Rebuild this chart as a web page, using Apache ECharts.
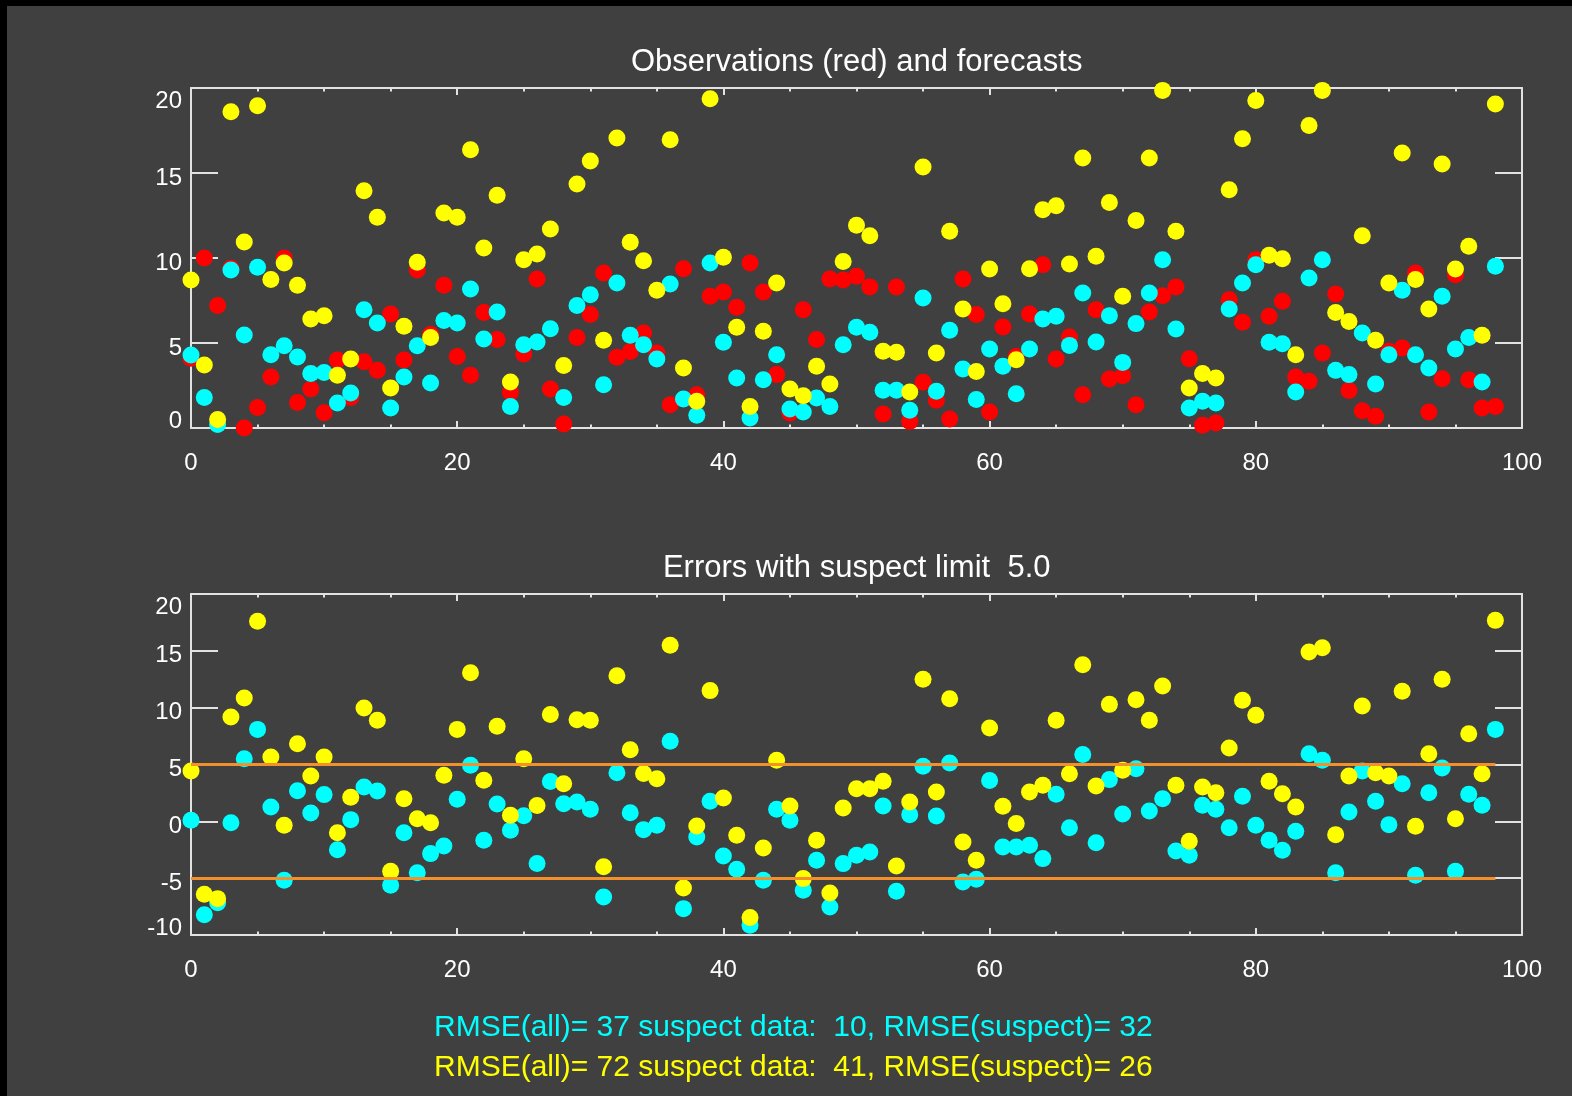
<!DOCTYPE html>
<html>
<head>
<meta charset="utf-8">
<script src="https://cdn.jsdelivr.net/npm/echarts@6/dist/echarts.min.js"></script>
<style>
  html, body { margin: 0; padding: 0; background: #000000; width: 1572px; height: 1096px; overflow: hidden; }
  #chart { position: absolute; left: 7px; top: 6px; width: 1565px; height: 1090px; }
</style>
</head>
<body>
<div id="chart"></div>
<script>
// ---------- data ----------
const observations = [
  4.1, 10.0, 7.2, 9.4, 0.0, 1.2, 3.0, 10.0, 1.5, 2.3,
  0.9, 4.0, 1.8, 3.9, 3.4, 6.7, 4.0, 9.3, 5.5, 8.4,
  4.2, 3.1, 6.8, 5.2, 2.1, 4.35, 8.76, 2.3, 0.24, 5.33,
  6.67, 9.12, 4.16, 4.5, 5.59, 4.41, 1.37, 9.37, 1.96, 7.75,
  8.0, 7.1, 9.7, 8.0, 3.14, 0.88, 6.96, 5.2, 8.76, 8.7,
  8.92, 8.29, 0.82, 8.29, 0.39, 2.69, 1.63, 0.53, 8.76, 6.67,
  0.94, 5.94, 4.2, 6.7, 9.6, 4.06, 5.35, 1.96, 6.96, 2.88,
  3.08, 1.37, 6.82, 7.78, 8.29, 4.08, 0.16, 0.29, 7.55, 6.22,
  9.9, 6.57, 7.45, 3.0, 2.75, 4.41, 7.88, 2.2, 1.02, 0.69,
  4.51, 4.71, 9.12, 0.94, 2.9, 9.02, 2.84, 1.18, 1.27
];
const forecastCyan = [
  4.3, 1.8, 0.2, 9.3, 5.47, 9.45, 4.31, 4.84, 4.18, 3.2,
  3.27, 1.47, 2.06, 6.96, 6.18, 1.18, 3.0, 4.84, 2.65, 6.33,
  6.18, 8.18, 5.24, 6.82, 1.27, 4.9, 5.06, 5.84, 1.8, 7.2,
  7.84, 2.55, 8.53, 5.45, 4.9, 4.06, 8.47, 1.7, 0.75, 9.7,
  5.04, 2.94, 0.59, 2.84, 4.31, 1.12, 0.94, 1.76, 1.27, 4.9,
  5.92, 5.63, 2.22, 2.22, 1.04, 7.65, 2.16, 5.75, 3.47, 1.67,
  4.65, 3.63, 2.02, 4.65, 6.41, 6.57, 4.86, 7.94, 5.06, 6.61,
  3.86, 6.14, 7.94, 9.9, 5.82, 1.18, 1.57, 1.47, 7.0, 8.53,
  9.6, 5.04, 4.96, 2.12, 8.82, 9.9, 3.39, 3.14, 5.59, 2.59,
  4.31, 8.1, 4.31, 3.53, 7.75, 4.65, 5.33, 2.71, 9.51
];
const forecastYellow = [
  8.7, 3.7, 0.5, 18.6, 10.94, 18.96, 8.73, 9.7, 8.4, 6.41,
  6.6, 3.1, 4.06, 13.96, 12.4, 2.35, 5.98, 9.75, 5.33, 12.65,
  12.4, 16.37, 10.59, 13.69, 2.7, 9.9, 10.24, 11.7, 3.67, 14.35,
  15.7, 5.16, 17.06, 10.92, 9.84, 8.1, 16.96, 3.53, 1.57, 19.37,
  10.04, 5.92, 1.27, 5.69, 8.53, 2.29, 1.9, 3.63, 2.59, 9.8,
  11.92, 11.31, 4.51, 4.45, 2.12, 15.35, 4.41, 11.57, 7.0, 3.33,
  9.35, 7.31, 4.02, 9.37, 12.84, 13.08, 9.65, 15.88, 10.1, 13.27,
  7.75, 12.2, 15.88, 19.86, 11.57, 2.35, 3.2, 2.94, 14.02, 17.02,
  19.27, 10.16, 9.96, 4.31, 17.8, 19.86, 6.8, 6.27, 11.31, 5.16,
  8.53, 16.18, 8.73, 7.0, 15.53, 9.35, 10.69, 5.45, 19.06
];
const errorCyan = [
  0.09, -8.21, -7.16, -0.12, 5.51, 8.09, 1.26, -5.19, 2.7, 0.73,
  2.35, -2.49, 0.15, 3.02, 2.67, -5.63, -1.0, -4.52, -2.84, -2.17,
  1.94, 4.93, -1.67, 1.52, -0.79, 0.5, -3.7, 3.5, 1.55, 1.7,
  1.06, -6.66, 4.28, 0.76, -0.73, -0.35, 7.04, -7.68, -1.38, 1.76,
  -3.05, -4.22, -9.15, -5.19, 1.06, 0.09, -6.07, -3.43, -7.54, -3.72,
  -2.99, -2.7, 1.35, -6.16, 0.59, 4.84, 0.47, 5.13, -5.34, -5.1,
  3.6, -2.26, -2.26, -2.11, -3.28, 2.38, -0.56, 5.87, -1.88, 3.67,
  0.65, 4.63, 0.91, 1.99, -2.61, -2.99, 1.41, 1.06, -0.56, 2.2,
  -0.35, -1.67, -2.55, -0.88, 5.95, 5.37, -4.52, 0.82, 4.43, 1.76,
  -0.29, 3.31, -4.75, 2.52, 4.69, -4.4, 2.38, 1.41, 8.09
];
const errorYellow = [
  4.43, -6.42, -6.8, 9.18, 10.85, 17.6, 5.66, -0.35, 6.83, 3.99,
  5.66, -1.0, 2.11, 9.97, 8.89, -4.4, 1.99, 0.23, -0.12, 4.05,
  8.09, 13.08, 3.61, 8.36, 0.53, 5.5, 1.4, 9.4, 3.3, 8.94,
  8.9, -4.0, 12.8, 6.3, 4.2, 3.75, 15.5, -5.87, -0.41, 11.5,
  2.05, -1.23, -8.47, -2.35, 5.37, 1.35, -5.04, -1.67, -6.3, 1.17,
  2.87, 2.87, 3.52, -3.93, 1.7, 12.49, 2.58, 10.79, -1.82, -3.43,
  8.21, 1.32, -0.2, 2.58, 3.17, 8.89, 4.19, 13.78, 3.11, 10.29,
  4.49, 10.7, 8.89, 11.9, 3.17, -1.76, 3.02, 2.52, 6.45, 10.65,
  9.33, 3.52, 2.43, 1.26, 14.9, 15.28, -1.17, 3.99, 10.15, 4.28,
  3.99, 11.44, -0.44, 5.95, 12.49, 0.23, 7.71, 4.19, 17.68
];
const suspectLimits = [5, -5];
const limitLineStart = 0;
const limitLineEnd = 98;

const topTitle = 'Observations (red) and forecasts';
const bottomTitle = 'Errors with suspect limit  5.0';
const statsCyan = 'RMSE(all)= 37 suspect data:  10, RMSE(suspect)= 32';
const statsYellow = 'RMSE(all)= 72 suspect data:  41, RMSE(suspect)= 26';

const xRange = [0, 100], xStep = 20;
const topYRange = [0, 20], botYRange = [-10, 20], yStep = 5;

// ---------- styling ----------
const FONT = '"Liberation Sans", Arial, sans-serif';
const AX = '#e2e2e2';
const RED = '#ff0000', CYAN = '#00ffff', YELLOW = '#ffff00', ORANGE = '#f3902c';
const DOT = 17;
const TICKFONT = 24;

function pairs(arr) { return arr.map((v, i) => [i, v]); }

function xAxis(grid, pos, showLabel, margin) {
  return {
    type: 'value', gridIndex: grid, position: pos, min: xRange[0], max: xRange[1], interval: xStep,
    axisLine: { show: true, onZero: false, lineStyle: { color: AX, width: 2 } },
    axisTick: { show: true, inside: true, length: 7, lineStyle: { color: AX, width: 2 } },
    minorTick: { show: true, splitNumber: 4, length: 3.5, lineStyle: { color: AX, width: 2 } },
    axisLabel: { show: showLabel, color: '#ffffff', fontSize: TICKFONT, fontFamily: FONT, margin: margin },
    splitLine: { show: false }, minorSplitLine: { show: false }
  };
}
function yAxis(grid, pos, showLabel, range) {
  const lo = range[0], hi = range[1];
  const tok = { color: '#ffffff', fontSize: TICKFONT, fontFamily: FONT };
  return {
    type: 'value', gridIndex: grid, position: pos, min: lo, max: hi, interval: yStep,
    axisLine: { show: true, onZero: false, lineStyle: { color: AX, width: 2 } },
    axisTick: { show: true, inside: true, length: 27, lineStyle: { color: AX, width: 2 } },
    axisLabel: {
      show: showLabel, margin: 9, color: '#ffffff', fontSize: TICKFONT, fontFamily: FONT,
      formatter: function (v) {
        if (v === hi) return '{hi|' + v + '}';
        if (v === lo) return '{lo|' + v + '}';
        return '{n|' + v + '}';
      },
      rich: {
        n: Object.assign({ padding: [10, 0, 0, 0] }, tok),
        hi: Object.assign({ padding: [27, 0, 0, 0] }, tok),
        lo: Object.assign({ padding: [0, 0, 13, 0] }, tok)
      }
    },
    splitLine: { show: false }
  };
}
function scatter(name, xi, yi, data, color, z) {
  return {
    name: name, type: 'scatter', xAxisIndex: xi, yAxisIndex: yi, data: pairs(data),
    symbol: 'circle', symbolSize: DOT, clip: false, z: z,
    itemStyle: { color: color, opacity: 1 }, emphasis: { disabled: true }
  };
}

const chart = echarts.init(document.getElementById('chart'), null, { renderer: 'canvas' });
const limitData = suspectLimits.map(v => [{ coord: [limitLineStart, v] }, { coord: [limitLineEnd, v] }]);

const yellowErr = scatter('error yellow', 2, 2, errorYellow, YELLOW, 4);
yellowErr.markLine = {
  silent: true, symbol: ['none', 'none'], label: { show: false }, animation: false,
  lineStyle: { color: ORANGE, width: 3, type: 'solid' }, emphasis: { disabled: true },
  data: limitData
};

chart.setOption({
  backgroundColor: '#404040',
  animation: false,
  grid: [
    { left: 184, top: 82, width: 1331, height: 340 },
    { left: 184, top: 588, width: 1331, height: 341 }
  ],
  xAxis: [
    xAxis(0, 'bottom', true, 23),
    xAxis(0, 'top', false, 8),
    xAxis(1, 'bottom', true, 23),
    xAxis(1, 'top', false, 8)
  ],
  yAxis: [
    yAxis(0, 'left', true, topYRange),
    yAxis(0, 'right', false, topYRange),
    yAxis(1, 'left', true, botYRange),
    yAxis(1, 'right', false, botYRange)
  ],
  series: [
    scatter('observations', 0, 0, observations, RED, 2),
    scatter('forecast cyan', 0, 0, forecastCyan, CYAN, 3),
    scatter('forecast yellow', 0, 0, forecastYellow, YELLOW, 4),
    scatter('error cyan', 2, 2, errorCyan, CYAN, 3),
    yellowErr
  ],
  graphic: [
    { type: 'text', x: 849.7, y: 56.5, silent: true,
      style: { text: topTitle, fill: '#ffffff', font: '31px ' + FONT, align: 'center', verticalAlign: 'middle' } },
    { type: 'text', x: 849.7, y: 562, silent: true,
      style: { text: bottomTitle, fill: '#ffffff', font: '31px ' + FONT, align: 'center', verticalAlign: 'middle' } },
    { type: 'text', x: 427, y: 1022, silent: true,
      style: { text: statsCyan, fill: CYAN, font: '30px ' + FONT, align: 'left', verticalAlign: 'middle' } },
    { type: 'text', x: 427, y: 1062, silent: true,
      style: { text: statsYellow, fill: YELLOW, font: '30px ' + FONT, align: 'left', verticalAlign: 'middle' } }
  ]
});
</script>
</body>
</html>
